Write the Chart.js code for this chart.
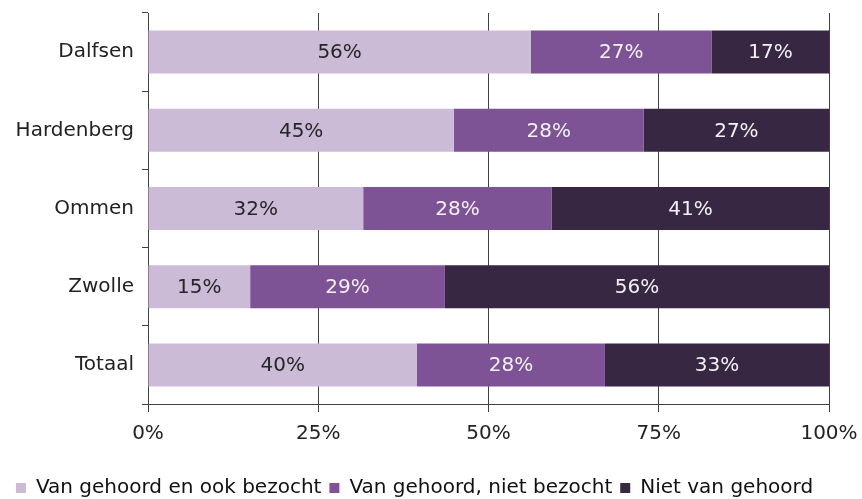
<!DOCTYPE html>
<html>
<head>
<meta charset="utf-8">
<script src="https://cdn.jsdelivr.net/npm/chart.js@4/dist/chart.umd.min.js"></script>
<style>
  html, body { margin: 0; padding: 0; background: #fff; }
  #wrap { width: 862px; height: 499px; }
</style>
</head>
<body>
<div id="wrap"><canvas id="myChart" width="862" height="499"></canvas></div>
<script>
const labels = ["Dalfsen", "Hardenberg", "Ommen", "Zwolle", "Totaal"];

const bezocht = [56.2, 44.9, 31.6, 15.0, 39.5];
const nietBezocht = [26.6, 27.9, 27.7, 28.6, 27.6];
const nietGehoord = [17.2, 27.2, 40.7, 56.4, 32.9];

const seriesNames = ["Van gehoord en ook bezocht", "Van gehoord, niet bezocht", "Niet van gehoord"];
const seriesColors = ["#CBBBD6", "#7E5396", "#372742"];
const labelColors = ["#262626", "#F2F2F2", "#F2F2F2"];

const xTicks = [0, 25, 50, 75, 100];

const fontFamily = "'DejaVu Sans', Verdana, sans-serif";
const axisColor = "#404040";

// draws the percentage in the middle of each segment
const segmentLabels = {
  id: "segmentLabels",
  afterDatasetsDraw(chart) {
    const c = chart.ctx;
    c.save();
    c.font = "20px " + fontFamily;
    c.textAlign = "center";
    c.textBaseline = "middle";
    chart.data.datasets.forEach(function (ds, i) {
      const meta = chart.getDatasetMeta(i);
      meta.data.forEach(function (bar, j) {
        const p = bar.getCenterPoint();
        c.fillStyle = labelColors[i];
        c.fillText(Math.round(ds.data[j]) + "%", p.x, p.y + 1);
      });
    });
    c.restore();
  },
};

const ctx = document.getElementById("myChart");

const chart = new Chart(ctx, {
  type: "bar",
  data: {
    labels: labels,
    datasets: [
      { label: seriesNames[0], data: bezocht, backgroundColor: seriesColors[0] },
      { label: seriesNames[1], data: nietBezocht, backgroundColor: seriesColors[1] },
      { label: seriesNames[2], data: nietGehoord, backgroundColor: seriesColors[2] },
    ],
  },
  options: {
    responsive: false,
    animation: false,
    indexAxis: "y",
    barPercentage: 0.55,
    categoryPercentage: 1,
    layout: {
      padding: { top: 13, right: 33, left: 0, bottom: -9 },
    },
    scales: {
      x: {
        stacked: true,
        min: 0,
        max: 100,
        afterBuildTicks: function (scale) {
          scale.ticks = xTicks.map(function (v) { return { value: v }; });
        },
        afterFit: function (scale) {
          scale.height = 66;
          scale.paddingLeft = 0;
          scale.paddingRight = 0;
        },
        ticks: {
          callback: function (v) { return v + "%"; },
          font: { family: fontFamily, size: 20 },
          color: "#222",
          padding: 10,
          maxRotation: 0,
        },
        grid: {
          color: axisColor,
          lineWidth: 1,
          tickLength: 8,
        },
        border: { color: axisColor, width: 1 },
      },
      y: {
        stacked: true,
        afterFit: function (scale) {
          scale.width = 148;
          scale.paddingTop = 0;
          scale.paddingBottom = 0;
        },
        ticks: {
          font: { family: fontFamily, size: 20 },
          color: "#222",
          padding: 8,
        },
        grid: {
          offset: true,
          drawOnChartArea: false,
          color: axisColor,
          tickLength: 6,
        },
        border: { color: axisColor, width: 1 },
      },
    },
    plugins: {
      legend: {
        position: "bottom",
        labels: {
          boxWidth: 10,
          boxHeight: 10,
          padding: 8,
          color: "#111",
          font: { family: fontFamily, size: 20, lineHeight: 1 },
        },
      },
      tooltip: { enabled: false },
    },
  },
  plugins: [segmentLabels],
});
</script>
</body>
</html>
